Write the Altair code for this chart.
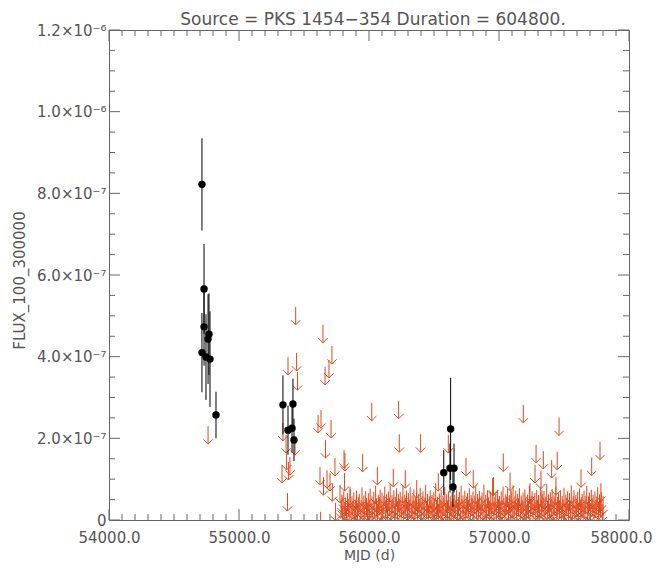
import altair as alt
import pandas as pd

TITLE = "Source = PKS 1454\u2212354 Duration = 604800."
X_TITLE = "MJD (d)"
Y_TITLE = "FLUX_100_300000"

# axis ticks / labels
x_major = [54000, 55000, 56000, 57000, 58000]
x_labels = ["54000.0", "55000.0", "56000.0", "57000.0", "58000.0"]
x_minor = [54000 + 100 * i for i in range(1, 40) if i % 10 != 0]
y_major = [0.0, 2e-7, 4e-7, 6e-7, 8e-7, 1.0e-6, 1.2e-6]
y_labels = ["0", "2.0\u00d710\u207b\u2077", "4.0\u00d710\u207b\u2077", "6.0\u00d710\u207b\u2077",
            "8.0\u00d710\u207b\u2077", "1.0\u00d710\u207b\u2076", "1.2\u00d710\u207b\u2076"]
y_minor = [0.5e-7 * i for i in range(1, 24) if i % 4 != 0]

# detections (flux and error in units of 1e-9)
det_mjd = [54715, 54731, 54715, 54731, 54769, 54762, 54746, 54777, 54823,
           55338, 55415, 55377, 55408, 55423,
           56628, 56575, 56623, 56654, 56646]
det_flux_e9 = [822, 566, 410, 473, 455, 443, 399, 394, 257,
               282, 284, 220, 225, 196,
               223, 116, 127, 127, 81]
det_err_e9 = [113, 110, 97, 95, 100, 110, 105, 117, 57,
              72, 62, 60, 60, 52,
              125, 55, 60, 60, 50]

# upper limits that stand out (flux in units of 1e-9)
ul_hi_mjd = [54762, 55331, 55338, 55362, 55366, 55373, 55377, 55380, 55392, 55431,
             55436, 55443, 55450, 55608, 55623, 55628, 55631, 55646, 55650, 55662,
             55665, 55677, 55692, 55700, 55708, 55715, 55718, 55738, 55742, 55777,
             55792, 55808, 55812, 55815, 55854, 55951, 56021, 56064, 56187, 56228,
             56233, 56279, 56367, 56397, 56533, 56610, 56746, 56802, 56951, 56958,
             57033, 57085, 57092, 57187, 57238, 57277, 57285, 57323, 57330, 57341,
             57405, 57438, 57448, 57462, 57631, 57713, 57777, 57784]
ul_hi_e9 = [230, 135, 238, 208, 167, 66, 399, 142, 154, 203,
            522, 409, 362, 257, 130, 20, 269, 478, 105, 375,
            196, 122, 392, 115, 245, 426, 90, 152, 42, 86,
            56, 171, 115, 164, 81, 162, 287, 130, 125, 292,
            210, 122, 98, 210, 115, 208, 152, 122, 103, 105,
            163, 116, 73, 282, 90, 135, 184, 121, 73, 169,
            147, 105, 167, 251, 124, 153, 192, 90]

# dense weekly upper limits near the bottom (flux in units of 1e-9)
ul_lo_mjd = [
    55785, 55792, 55799, 55806, 55813, 55820, 55827, 55834, 55841, 55848,
    55855, 55862, 55869, 55876, 55883, 55890, 55897, 55904, 55911, 55918,
    55925, 55932, 55939, 55946, 55953, 55960, 55967, 55974, 55981, 55988,
    55995, 56002, 56009, 56016, 56023, 56030, 56037, 56044, 56051, 56058,
    56065, 56072, 56079, 56086, 56093, 56100, 56107, 56114, 56121, 56128,
    56135, 56142, 56149, 56156, 56163, 56170, 56177, 56184, 56191, 56198,
    56205, 56212, 56219, 56226, 56233, 56240, 56247, 56254, 56261, 56268,
    56275, 56282, 56289, 56296, 56303, 56310, 56317, 56324, 56331, 56338,
    56345, 56352, 56359, 56366, 56373, 56380, 56387, 56394, 56401, 56408,
    56415, 56422, 56429, 56436, 56443, 56450, 56457, 56464, 56471, 56478,
    56485, 56492, 56499, 56506, 56513, 56520, 56527, 56534, 56541, 56548,
    56555, 56562, 56569, 56576, 56583, 56590, 56597, 56604, 56611, 56618,
    56625, 56632, 56639, 56646, 56653, 56660, 56667, 56674, 56681, 56688,
    56695, 56702, 56709, 56716, 56723, 56730, 56737, 56744, 56751, 56758,
    56765, 56772, 56779, 56786, 56793, 56800, 56807, 56814, 56821, 56828,
    56835, 56842, 56849, 56856, 56863, 56870, 56877, 56884, 56891, 56898,
    56905, 56912, 56919, 56926, 56933, 56940, 56947, 56954, 56961, 56968,
    56975, 56982, 56989, 56996, 57003, 57010, 57017, 57024, 57031, 57038,
    57045, 57052, 57059, 57066, 57073, 57080, 57087, 57094, 57101, 57108,
    57115, 57122, 57129, 57136, 57143, 57150, 57157, 57164, 57171, 57178,
    57185, 57192, 57199, 57206, 57213, 57220, 57227, 57234, 57241, 57248,
    57255, 57262, 57269, 57276, 57283, 57290, 57297, 57304, 57311, 57318,
    57325, 57332, 57339, 57346, 57353, 57360, 57367, 57374, 57381, 57388,
    57395, 57402, 57409, 57416, 57423, 57430, 57437, 57444, 57451, 57458,
    57465, 57472, 57479, 57486, 57493, 57500, 57507, 57514, 57521, 57528,
    57535, 57542, 57549, 57556, 57563, 57570, 57577, 57584, 57591, 57598,
    57605, 57612, 57619, 57626, 57633, 57640, 57647, 57654, 57661, 57668,
    57675, 57682, 57689, 57696, 57703, 57710, 57717, 57724, 57731, 57738,
    57745, 57752, 57759, 57766, 57773, 57780, 57787, 57794, 57801]
ul_lo_e9 = [
    48, 62, 35, 70, 44, 55, 30, 66, 52, 40,
    75, 38, 58, 46, 68, 33, 50, 72, 41, 57,
    64, 36, 49, 80, 45, 60, 39, 71, 54, 43,
    66, 50, 77, 42, 58, 35, 69, 47, 84, 53,
    40, 62, 56, 74, 45, 67, 38, 59, 82, 48,
    63, 41, 70, 55, 88, 44, 61, 50, 73, 37,
    57, 78, 46, 64, 52, 69, 40, 58, 85, 47,
    62, 54, 72, 43, 66, 50, 80, 39, 60, 48,
    75, 45, 57, 68, 36, 63, 52, 79, 44, 59,
    70, 41, 55, 86, 47, 64, 38, 58, 73, 49,
    61, 42, 68, 53, 90, 46, 57, 39, 65, 50,
    74, 44, 60, 55, 81, 40, 63, 48, 70, 36,
    58, 45, 67, 52, 38, 62, 48, 75, 43, 56,
    69, 40, 84, 51, 60, 45, 72, 38, 57, 66,
    49, 78, 42, 61, 54, 70, 37, 59, 83, 46,
    64, 52, 71, 40, 58, 67, 44, 87, 50, 62,
    39, 73, 55, 47, 68, 41, 60, 79, 45, 56,
    65, 38, 74, 51, 59, 43, 70, 48, 82, 54,
    40, 63, 57, 76, 44, 61, 36, 69, 50, 85,
    46, 58, 72, 41, 64, 53, 78, 39, 60, 49,
    67, 43, 75, 55, 38, 62, 47, 84, 52, 59,
    70, 40, 57, 66, 45, 73, 50, 61, 37, 80,
    48, 64, 54, 71, 42, 58, 88, 46, 63, 39,
    68, 52, 76, 44, 60, 55, 82, 41, 57, 65,
    47, 72, 38, 59, 50, 79, 43, 62, 54, 70,
    40, 66, 48, 85, 45, 58, 73, 37, 61, 52,
    69, 42, 77, 50, 56, 64, 39, 72, 47, 60,
    83, 44, 58, 67, 41, 74, 53, 62, 38, 70,
    49, 57, 80, 45, 63, 52, 68, 40, 58]

UL_COLOR = "#e0481c"
TEXT_COLOR = "#555555"
FRAME_COLOR = "#666666"
FONT = "DejaVu Sans"

ul_df = pd.DataFrame({
    "mjd": ul_hi_mjd + ul_lo_mjd,
    "flux": [v * 1e-9 for v in ul_hi_e9 + ul_lo_e9],
})
det_df = pd.DataFrame({
    "mjd": det_mjd,
    "flux": [v * 1e-9 for v in det_flux_e9],
    "lo": [(v - e) * 1e-9 for v, e in zip(det_flux_e9, det_err_e9)],
    "hi": [(v + e) * 1e-9 for v, e in zip(det_flux_e9, det_err_e9)],
})

xs = alt.Scale(domain=[54000, 58000], nice=False, zero=False)
ys = alt.Scale(domain=[0, 1.2e-6], nice=False)

x_expr = " : ".join(f"datum.value == {v} ? '{l}'" for v, l in zip(x_major, x_labels)) + " : ''"
y_expr = " : ".join(f"abs(datum.value - {v}) < 1e-9 ? '{l}'" for v, l in zip(y_major, y_labels)) + " : ''"

x_axis = alt.Axis(values=x_major, labelExpr=x_expr, ticks=False, tickSize=0, domain=False,
                  grid=False, labelPadding=10, labelFlush=False, labelOverlap=False,
                  labelOffset={"condition": {"test": "datum.value == 58000", "value": -8}, "value": 0},
                  title=X_TITLE, titleX=260, titleY=35, titleBaseline="middle",
                  titleAlign="center", titleFontSize=14)
y_axis = alt.Axis(values=y_major, labelExpr=y_expr, ticks=False, tickSize=0, domain=False,
                  grid=False, labelPadding=3, labelBaseline="middle", labelFlush=False,
                  labelOverlap=False, title=Y_TITLE, titleX=-90, titleY=250, titleAngle=270,
                  titleBaseline="middle", titleAlign="center")

# inward ticks on all four sides
xmaj_df = pd.DataFrame({"mjd": x_major})
xmin_df = pd.DataFrame({"mjd": x_minor})
ymaj_df = pd.DataFrame({"flux": y_major})
ymin_df = pd.DataFrame({"flux": y_minor})

tick_style = dict(color=FRAME_COLOR, strokeWidth=1)
ticks = [
    alt.Chart(xmaj_df).mark_rule(**tick_style).encode(
        x=alt.X("mjd:Q", scale=xs), y=alt.value(490), y2=alt.value(479)),
    alt.Chart(xmaj_df).mark_rule(**tick_style).encode(
        x=alt.X("mjd:Q", scale=xs), y=alt.value(0), y2=alt.value(11)),
    alt.Chart(xmin_df).mark_rule(**tick_style).encode(
        x=alt.X("mjd:Q", scale=xs), y=alt.value(490), y2=alt.value(484)),
    alt.Chart(xmin_df).mark_rule(**tick_style).encode(
        x=alt.X("mjd:Q", scale=xs), y=alt.value(0), y2=alt.value(6)),
    alt.Chart(ymaj_df).mark_rule(**tick_style).encode(
        y=alt.Y("flux:Q", scale=ys), x=alt.value(0), x2=alt.value(11)),
    alt.Chart(ymaj_df).mark_rule(**tick_style).encode(
        y=alt.Y("flux:Q", scale=ys), x=alt.value(520), x2=alt.value(509)),
    alt.Chart(ymin_df).mark_rule(**tick_style).encode(
        y=alt.Y("flux:Q", scale=ys), x=alt.value(0), x2=alt.value(6)),
    alt.Chart(ymin_df).mark_rule(**tick_style).encode(
        y=alt.Y("flux:Q", scale=ys), x=alt.value(520), x2=alt.value(514)),
]

ul_lines = alt.Chart(ul_df).mark_rule(color=UL_COLOR, strokeWidth=1, y2Offset=18, clip=True).encode(
    x=alt.X("mjd:Q", scale=xs, axis=x_axis),
    y=alt.Y("flux:Q", scale=ys, axis=y_axis),
    y2="flux:Q",
)
ul_heads = alt.Chart(ul_df).mark_point(
    shape="M-1,-1L0,0L1,-1", size=90, filled=False, strokeWidth=1, color=UL_COLOR,
    opacity=1, yOffset=18, clip=True).encode(
    x=alt.X("mjd:Q", scale=xs),
    y=alt.Y("flux:Q", scale=ys),
)
det_bars = alt.Chart(det_df).mark_rule(color="black", strokeWidth=1, clip=True).encode(
    x=alt.X("mjd:Q", scale=xs),
    y=alt.Y("lo:Q", scale=ys),
    y2="hi:Q",
)
det_pts = alt.Chart(det_df).mark_circle(color="black", size=55, opacity=1).encode(
    x=alt.X("mjd:Q", scale=xs),
    y=alt.Y("flux:Q", scale=ys),
)

title_df = pd.DataFrame({"t": [TITLE]})
title_mark = alt.Chart(title_df).mark_text(
    font=FONT, fontSize=17, color=TEXT_COLOR, align="center", baseline="alphabetic"
).encode(text="t:N", x=alt.value(264), y=alt.value(-5))

chart = alt.layer(ul_lines, ul_heads, det_bars, det_pts, *ticks, title_mark).properties(
    width=520,
    height=490,
    autosize=alt.AutoSizeParams(type="none"),
    padding={"left": 101, "top": 22, "right": 23, "bottom": 42},
).configure_view(
    stroke=FRAME_COLOR, strokeWidth=1
).configure_axis(
    labelFont=FONT, labelFontSize=15, labelColor=TEXT_COLOR,
    titleFont=FONT, titleFontSize=15, titleColor=TEXT_COLOR, titleFontWeight="normal",
)

chart.save("out.html", embed_options={"renderer": "svg", "actions": False})
